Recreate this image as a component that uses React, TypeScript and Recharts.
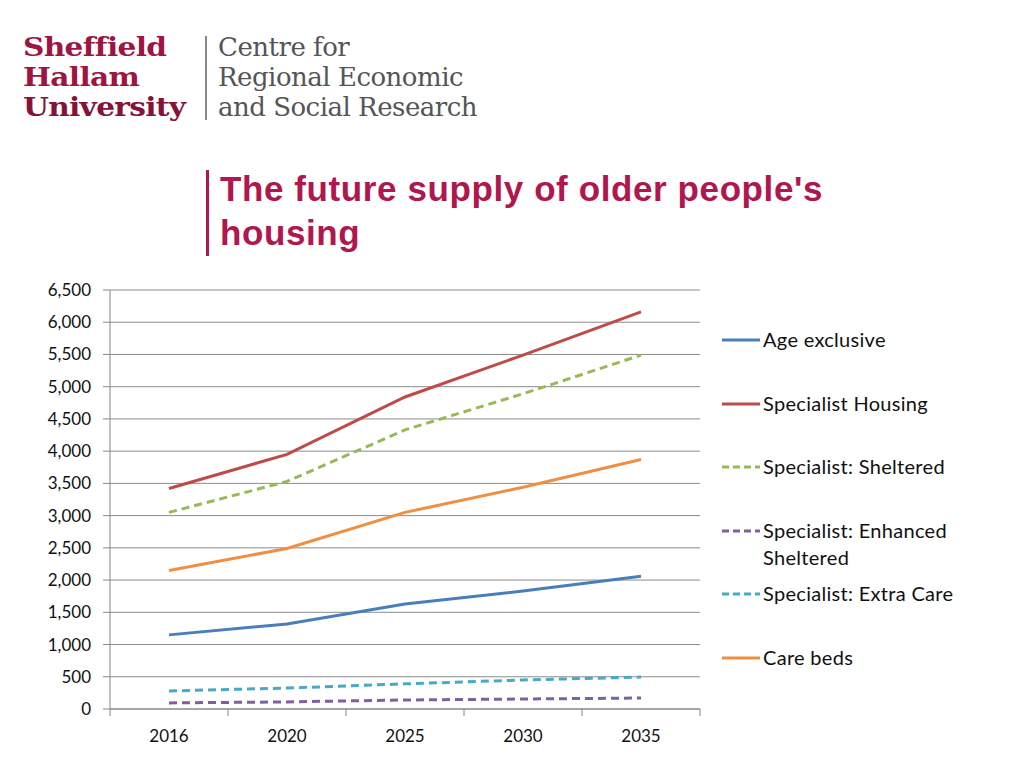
import { LineChart, Line, XAxis, YAxis, CartesianGrid } from "recharts"

const years = ["2016", "2020", "2025", "2030", "2035"]
const yTicks = [0, 500, 1000, 1500, 2000, 2500, 3000, 3500, 4000, 4500, 5000, 5500, 6000, 6500]

const ageExclusive = [1150, 1320, 1630, 1830, 2060]
const specialistHousing = [3420, 3950, 4840, 5490, 6160]
const specialistSheltered = [3050, 3530, 4330, 4890, 5490]
const enhancedSheltered = [95, 110, 140, 155, 170]
const extraCare = [280, 325, 390, 450, 495]
const careBeds = [2150, 2490, 3050, 3440, 3870]

const SERIES = [
  { key: "age", name: "Age exclusive", values: ageExclusive, color: "#4a7ebb", dash: undefined },
  { key: "spec", name: "Specialist Housing", values: specialistHousing, color: "#be4b48", dash: undefined },
  { key: "shel", name: "Specialist: Sheltered", values: specialistSheltered, color: "#98b954", dash: "8 5" },
  { key: "enh", name: "Specialist: Enhanced Sheltered", values: enhancedSheltered, color: "#7d60a0", dash: "8 5" },
  { key: "extra", name: "Specialist: Extra Care", values: extraCare, color: "#46aac5", dash: "8 5" },
  { key: "care", name: "Care beds", values: careBeds, color: "#ee8f42", dash: undefined },
]

const data = years.map((year, i) => {
  const row: Record<string, string | number> = { year }
  SERIES.forEach((s) => {
    row[s.key] = s.values[i]
  })
  return row
})

const FONT = "Lato, 'Open Sans', sans-serif"
const CRIMSON = "#b0174e"
const PLOT_W = 590
const band = PLOT_W / years.length

function YearTick(props: any) {
  const { x, y, payload, index } = props
  return (
    <g>
      <line x1={x - band / 2} y1={y} x2={x - band / 2} y2={y + 7} stroke="#868686" />
      {index === years.length - 1 && (
        <line x1={x + band / 2} y1={y} x2={x + band / 2} y2={y + 7} stroke="#868686" />
      )}
      <text x={x} y={y + 26} textAnchor="middle" dominantBaseline="central" fontSize={17} fill="#111" fontFamily={FONT}>
        {payload.value}
      </text>
    </g>
  )
}

function LegendBlock() {
  return (
    <div style={{ position: "absolute", left: 722, top: 0, fontFamily: FONT, fontSize: 20, color: "#111" }}>
      {SERIES.map((s, i) => (
        <div key={s.key} style={{ position: "absolute", left: 0, top: 340 + i * 63.6 - 12, width: 290, display: "flex" }}>
          <svg width={41} height={24} style={{ flex: "none" }}>
            <line x1={0} y1={12} x2={38} y2={12} stroke={s.color} strokeWidth={3} strokeDasharray={s.dash ? "7 4" : undefined} />
          </svg>
          <span style={{ lineHeight: "27px", marginTop: -2, width: 210, letterSpacing: 0.3 }}>{s.name}</span>
        </div>
      ))}
    </div>
  )
}

const logoLine = { height: 30, lineHeight: "30px", overflow: "visible" as const }

export default function App() {
  return (
    <div style={{ position: "absolute", left: 0, top: 0, width: 1024, height: 768, background: "#fff", overflow: "hidden" }}>
      {/* logo */}
      <div style={{ position: "absolute", left: 23, top: 32, fontFamily: "'DejaVu Serif', serif", fontWeight: 700, fontSize: 26, color: "#9e1443", letterSpacing: -0.6, transform: "scaleX(1.14)", transformOrigin: "left top" }}>
        <div style={logoLine}>Sheffield</div>
        <div style={logoLine}>Hallam</div>
        <div style={{ ...logoLine, color: "#861139" }}>University</div>
      </div>
      <div style={{ position: "absolute", left: 205, top: 36, width: 2, height: 84, background: "#888" }} />
      <div style={{ position: "absolute", left: 218, top: 32, fontFamily: "'DejaVu Serif', serif", fontSize: 26, color: "#555557", letterSpacing: -0.5 }}>
        <div style={logoLine}>Centre for</div>
        <div style={logoLine}>Regional Economic</div>
        <div style={logoLine}>and Social Research</div>
      </div>

      {/* title */}
      <div style={{ position: "absolute", left: 206, top: 170, width: 3, height: 86, background: CRIMSON }} />
      <div style={{ position: "absolute", left: 220, top: 167, fontFamily: "'Liberation Sans', Arial, sans-serif", fontWeight: 700, fontSize: 35, lineHeight: "44px", color: CRIMSON, letterSpacing: 0.6 }}>
        <div>The future supply of older people's</div>
        <div>housing</div>
      </div>

      <div style={{ position: "absolute", left: 0, top: 270 }}>
        <LineChart width={1000} height={490} data={data} margin={{ top: 20, right: 300, bottom: 0, left: 0 }}>
          <CartesianGrid vertical={false} stroke="#8c8c8c" />
          <XAxis
            dataKey="year"
            height={51}
            stroke="#868686"
            tickLine={false}
            tickSize={0}
            tickMargin={0}
            interval={0}
            padding={{ left: band / 2, right: band / 2 }}
            tick={<YearTick />}
          />
          <YAxis
            width={110}
            domain={[0, 6500]}
            ticks={yTicks}
            interval={0}
            stroke="#868686"
            tickSize={7}
            tickMargin={12}
            tick={{ fontSize: 17, fill: "#111", fontFamily: FONT }}
            tickFormatter={(v: number) => v.toLocaleString("en-US")}
          />
          {SERIES.map((s) => (
            <Line
              key={s.key}
              dataKey={s.key}
              name={s.name}
              stroke={s.color}
              strokeWidth={3}
              strokeDasharray={s.dash}
              dot={false}
              isAnimationActive={false}
            />
          ))}
        </LineChart>
      </div>
      <LegendBlock />
    </div>
  )
}
